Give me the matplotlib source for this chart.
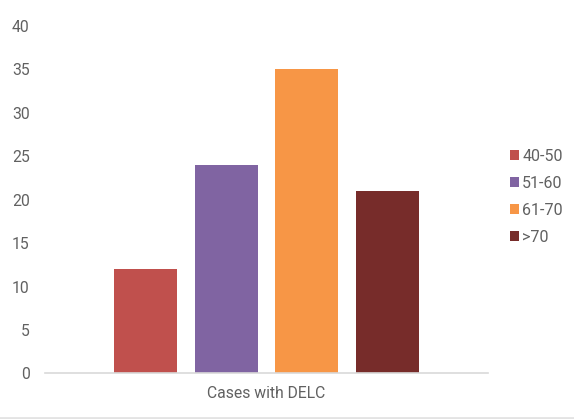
import matplotlib
matplotlib.use("Agg")
import matplotlib.pyplot as plt
from matplotlib.lines import Line2D
from matplotlib.patches import Patch

plt.rcParams["font.family"] = ["Roboto", "DejaVu Sans"]

# data
age_groups = ["40-50", "51-60", "61-70", ">70"]
cases = [12, 24, 35, 21]
colors = ["#C0504D", "#8064A2", "#F79646", "#772C2A"]
category = "Cases with DELC"

text_color = "#616161"

fig = plt.figure(figsize=(5.74, 4.19), dpi=100)
ax = fig.add_axes([0.0784, 0.1086, 0.7716, 0.8304])

positions = list(range(len(cases)))
ax.bar(positions, cases, width=0.785, color=colors)

ax.set_ylim(0, 40)
ax.set_yticks(range(0, 41, 5))
ax.set_xlim(-1.25, 4.25)
ax.set_xticks([sum(positions) / len(positions)])
ax.set_xticklabels([category])

for side in ["top", "right", "left"]:
    ax.spines[side].set_visible(False)
ax.spines["bottom"].set_color("#D9D9D9")
ax.spines["bottom"].set_linewidth(1.2)
ax.tick_params(axis="both", length=0, labelsize=11.3, labelcolor=text_color)
ax.tick_params(axis="y", pad=11)
ax.tick_params(axis="x", pad=9)

handles = [Patch(facecolor=c, edgecolor="none") for c in colors]
fig.legend(handles, age_groups, loc="upper left",
           bbox_to_anchor=(0.889, 0.645), frameon=False,
           handlelength=0.55, handleheight=0.55, handletextpad=0.2,
           labelspacing=0.75, fontsize=11.5, labelcolor=text_color,
           borderpad=0, borderaxespad=0)

# thin gray strip along the bottom edge
fig.add_artist(Line2D([0, 1], [0.003, 0.003], color="#E3E3E3", lw=2,
                      transform=fig.transFigure))

fig.savefig("out.png", dpi=100)
